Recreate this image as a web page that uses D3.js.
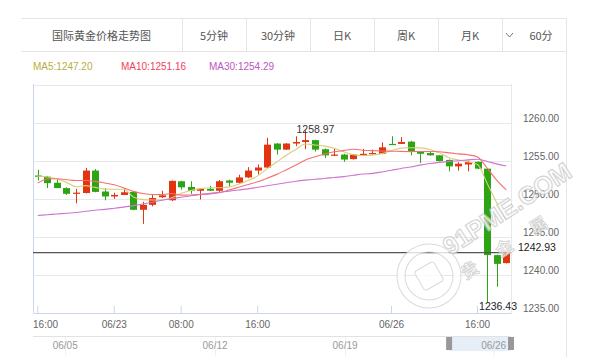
<!DOCTYPE html>
<html>
<head>
<meta charset="utf-8">
<script src="https://cdn.jsdelivr.net/npm/d3@7.9.0/dist/d3.min.js"></script>
<style>
  body { margin: 0; background: #fff; }
  svg { display: block; font-family: "Liberation Sans", Arial, "Noto Sans CJK SC", sans-serif; }
</style>
</head>
<body>
<svg id="chart" width="599" height="363"></svg>
<script>
// hourly sessions shown (day, first hour, last hour)
const sessions = [['06/22', 16, 23], ['06/23', 0, 4], ['06/23', 6, 23], ['06/24', 0, 5], ['06/26', 7, 19]];
const categories = [];
sessions.forEach(([d, a, b]) => {
  for (let h = a; h <= b; h++) categories.push(`${d} ${String(h).padStart(2, '0')}:00`);
});

const open = [1253.05, 1252.9, 1252.1, 1251.4, 1250.7, 1250.75, 1253.7, 1250.95, 1250.3, 1250.5,
  1250.9, 1248.55, 1249.2, 1250.2, 1249.8, 1252.3, 1251.55, 1251.05, 1251.3, 1251.05,
  1252.4, 1252.1, 1252.8, 1253.7, 1254.1, 1257.25, 1256.45, 1257.25, 1257.45, 1257.7,
  1256.5, 1255.65, 1255.8, 1255.2, 1255.8, 1255.85, 1255.9, 1257.2, 1257.2, 1257.5,
  1256.2, 1256.0, 1255.7, 1255.1, 1254.25, 1254.5, 1254.85, 1253.95, 1242.6, 1241.55];
const close = [1253.0, 1252.05, 1251.4, 1250.65, 1250.8, 1253.7, 1250.9, 1250.3, 1250.5, 1250.85,
  1248.55, 1249.2, 1250.1, 1250.45, 1252.35, 1251.5, 1251.05, 1251.3, 1251.05, 1252.3,
  1252.1, 1252.8, 1253.7, 1254.1, 1257.1, 1256.45, 1257.25, 1257.45, 1257.7, 1256.45,
  1255.7, 1255.8, 1255.15, 1255.8, 1255.9, 1256.0, 1256.75, 1257.15, 1257.45, 1256.15,
  1255.9, 1255.7, 1254.95, 1254.25, 1254.6, 1254.8, 1253.95, 1242.6, 1241.45, 1242.93];
const high = [1253.8, 1253.0, 1252.6, 1251.5, 1251.3, 1254.05, 1253.9, 1251.4, 1250.8, 1251.4,
  1250.95, 1249.6, 1250.6, 1251.05, 1252.4, 1252.35, 1252.3, 1251.4, 1251.7, 1252.45,
  1252.5, 1253.15, 1254.15, 1254.5, 1258.0, 1257.3, 1257.3, 1258.2, 1258.97, 1257.75,
  1256.6, 1256.65, 1255.9, 1255.85, 1256.55, 1256.45, 1257.4, 1258.2, 1258.1, 1257.6,
  1256.25, 1256.2, 1255.75, 1255.15, 1254.8, 1255.0, 1254.9, 1254.0, 1242.65, 1243.1];
const low = [1252.4, 1251.4, 1251.4, 1250.5, 1249.4, 1250.7, 1250.85, 1249.8, 1250.0, 1250.5,
  1248.5, 1246.7, 1249.0, 1250.1, 1249.7, 1251.2, 1250.65, 1249.9, 1251.0, 1250.9,
  1251.6, 1252.0, 1252.7, 1253.2, 1254.0, 1255.8, 1256.4, 1256.9, 1256.5, 1256.2,
  1255.35, 1255.6, 1254.85, 1255.15, 1255.75, 1255.8, 1255.85, 1257.1, 1257.2, 1255.7,
  1254.7, 1255.65, 1254.9, 1253.6, 1253.7, 1253.6, 1253.9, 1236.43, 1238.45, 1241.5];

const ma5 = [1252.95, 1252.85, 1252.6, 1252.15, 1251.58, 1251.72, 1251.49, 1251.27, 1251.24, 1251.25,
  1250.22, 1249.88, 1249.84, 1249.83, 1250.13, 1250.72, 1251.09, 1251.33, 1251.45, 1251.44,
  1251.56, 1251.91, 1252.39, 1253.0, 1253.96, 1254.83, 1255.72, 1256.47, 1257.19, 1257.06,
  1256.91, 1256.62, 1256.16, 1255.78, 1255.67, 1255.73, 1255.92, 1256.32, 1256.65, 1256.7,
  1256.68, 1256.47, 1256.03, 1255.39, 1255.08, 1254.86, 1254.51, 1252.04, 1249.48, 1247.2];
const ma10 = [1252.07, 1252.6, 1252.63, 1252.5, 1252.4, 1252.4, 1252.28, 1252.07, 1251.84, 1251.42,
  1250.97, 1250.69, 1250.56, 1250.54, 1250.69, 1250.47, 1250.49, 1250.59, 1250.64, 1250.79,
  1251.14, 1251.5, 1251.86, 1252.23, 1252.7, 1253.2, 1253.82, 1254.43, 1255.1, 1255.51,
  1255.87, 1256.17, 1256.32, 1256.49, 1256.37, 1256.32, 1256.27, 1256.24, 1256.22, 1256.19,
  1256.21, 1256.2, 1256.18, 1256.02, 1255.89, 1255.77, 1255.49, 1254.04, 1252.44, 1251.16];
const ma30 = [1247.8, 1247.9, 1248.0, 1248.1, 1248.2, 1248.35, 1248.5, 1248.6, 1248.75, 1248.9,
  1249.1, 1249.3, 1249.55, 1249.8, 1250.0, 1250.2, 1250.4, 1250.55, 1250.7, 1250.85,
  1251.0, 1251.15, 1251.3, 1251.5, 1251.7, 1251.9, 1252.1, 1252.3, 1252.45, 1252.57,
  1252.66, 1252.79, 1252.91, 1253.08, 1253.25, 1253.33, 1253.52, 1253.75, 1253.98, 1254.16,
  1254.41, 1254.62, 1254.78, 1254.91, 1254.99, 1255.1, 1255.19, 1254.9, 1254.58, 1254.29];

const yTicks = [1235, 1240, 1245, 1250, 1255, 1260];
const xTickLabels = [['06/22 16:00', '16:00'], ['06/23 00:00', '06/23'], ['06/23 08:00', '08:00'],
  ['06/23 16:00', '16:00'], ['06/26 07:00', '06/26'], ['06/26 16:00', '16:00']];
const tabs = ['国际黄金价格走势图', '5分钟', '30分钟', '日K', '周K', '月K', '60分'];
const navTicks = [['06/05', 26], ['06/12', 147], ['06/19', 252], ['06/26', 372]];
const navLength = 386;

const upColor = '#e3330f', downColor = '#2ca414';
const maStyles = [
  { name: 'MA5', values: ma5, line: '#d6cf78', text: '#b8ae3e' },
  { name: 'MA10', values: ma10, line: '#f57070', text: '#f2405a' },
  { name: 'MA30', values: ma30, line: '#cf74cf', text: '#c155c1' }
];

const svg = d3.select('#chart');
const L = 33, R = 511, T = 84, B = 313;

// ---- header tabs
const head = svg.append('g');
const tabEdges = [21, 182, 246, 310, 374, 438, 502, 566];
const headTop = 18, headBot = 51;
head.append('line').attr('x1', 21).attr('x2', 566).attr('y1', headTop + 0.5).attr('y2', headTop + 0.5).attr('stroke', '#e4e4e4');
head.append('line').attr('x1', 21).attr('x2', 566).attr('y1', headBot + 0.5).attr('y2', headBot + 0.5).attr('stroke', '#e4e4e4');
tabEdges.slice(1, -1).forEach(x => {
  head.append('line').attr('x1', x + 0.5).attr('x2', x + 0.5).attr('y1', headTop).attr('y2', headBot).attr('stroke', '#e4e4e4');
});
tabs.forEach((t, i) => {
  let cx = (tabEdges[i] + tabEdges[i + 1]) / 2;
  if (i === tabs.length - 1) cx += 7;
  head.append('text').attr('x', cx).attr('y', 39.5).attr('text-anchor', 'middle')
    .attr('font-size', 11).attr('fill', '#555')
    .style('font-family', '"Noto Sans CJK SC", sans-serif').text(t);
});
// chevron on the last tab
head.append('path').attr('d', 'M506,33 L509.5,37 L513,33').attr('fill', 'none').attr('stroke', '#777').attr('stroke-width', 1);

// right frame line
svg.append('line').attr('x1', 566.5).attr('x2', 566.5).attr('y1', headTop).attr('y2', 357).attr('stroke', '#e6e6e6');

// ---- legend
const lx = [33, 121, 209];
maStyles.forEach((m, i) => {
  svg.append('text').attr('x', lx[i]).attr('y', 69.5).attr('font-size', 10).attr('fill', m.text)
    .text(`${m.name}:${d3.format('.2f')(m.values[m.values.length - 1])}`);
});

// ---- scales
const x = d3.scaleBand().domain(categories).range([L, R]).paddingInner(0.3).paddingOuter(0.15);
const cx = c => x(c) + x.bandwidth() / 2;
const y = d3.scaleLinear().domain([1235, 1265]).range([B, T + 0.5]);

// grid
const grid = svg.append('g');
[...yTicks.slice(1), 1265].forEach(v => {
  grid.append('line').attr('x1', L).attr('x2', R).attr('y1', Math.round(y(v)) + 0.5).attr('y2', Math.round(y(v)) + 0.5)
    .attr('stroke', '#e8e8e8');
});
grid.append('line').attr('x1', R + 0.5).attr('x2', R + 0.5).attr('y1', T).attr('y2', B).attr('stroke', '#e8e8e8');

// y axis labels
const yAxis = svg.append('g').attr('transform', `translate(${R},0)`)
  .call(d3.axisRight(y).tickValues(yTicks).tickFormat(d3.format('.2f')).tickSize(0).tickPadding(12));
yAxis.select('.domain').remove();
yAxis.selectAll('text').attr('font-size', 10).attr('fill', '#666').attr('dy', '-0.15em')
  .style('font-family', '"Liberation Sans", Arial, sans-serif');

// x axis
const tickMap = new Map(xTickLabels);
const xAxis = svg.append('g').attr('transform', `translate(0,${B})`)
  .call(d3.axisBottom(x).tickValues(xTickLabels.map(d => d[0])).tickFormat(d => tickMap.get(d))
    .tickSizeInner(-7).tickSizeOuter(0));
xAxis.select('.domain').attr('stroke', '#ccd6eb');
xAxis.selectAll('.tick line').attr('stroke', '#ccd6eb');
xAxis.selectAll('text').attr('y', 8).attr('dy', '0.71em').attr('font-size', 10).attr('fill', '#666')
  .style('font-family', '"Liberation Sans", Arial, sans-serif');
xAxis.select('.tick text').attr('text-anchor', 'start').attr('x', L - cx(categories[0]));
svg.append('line').attr('x1', L + 0.5).attr('x2', L + 0.5).attr('y1', T).attr('y2', B).attr('stroke', '#ccd6eb');

// clip
svg.append('clipPath').attr('id', 'plot').append('rect').attr('x', L).attr('y', T).attr('width', R - L).attr('height', B - T);
const plot = svg.append('g').attr('clip-path', 'url(#plot)');

// ---- candles
categories.forEach((c, i) => {
  const col = close[i] >= open[i] ? upColor : downColor;
  const xc = Math.round(cx(c)) + 0.5;
  plot.append('line').attr('x1', xc).attr('x2', xc).attr('y1', y(high[i])).attr('y2', y(low[i]))
    .attr('stroke', col).attr('stroke-width', 1);
  const top = y(Math.max(open[i], close[i]));
  const h = Math.max(1.2, Math.abs(y(open[i]) - y(close[i])));
  plot.append('rect').attr('x', xc - 3.5).attr('y', top).attr('width', 7).attr('height', h).attr('fill', col);
});

// ---- moving averages
maStyles.forEach(m => {
  const line = d3.line().x((d, i) => cx(categories[i])).y(d => y(d)).curve(d3.curveMonotoneX);
  plot.append('path').attr('d', line(m.values)).attr('fill', 'none').attr('stroke', m.line).attr('stroke-width', 1.1);
});

// ---- last price line
const last = close[close.length - 1];
svg.append('line').attr('x1', L).attr('x2', R).attr('y1', y(last)).attr('y2', y(last))
  .attr('stroke', '#555').attr('stroke-width', 1.2);
svg.append('text').attr('x', 518).attr('y', y(last) - 2).attr('font-size', 10.5).attr('fill', '#222')
  .text(d3.format('.2f')(last));

// ---- high / low marks
const hi = d3.maxIndex(high), lo = d3.minIndex(low);
svg.append('text').attr('x', cx(categories[hi]) - 9).attr('y', y(high[hi]) + 3).attr('font-size', 10.5).attr('fill', '#333')
  .text(d3.format('.2f')(high[hi]));
svg.append('text').attr('x', cx(categories[lo]) - 8).attr('y', y(low[lo]) + 8).attr('font-size', 10.5).attr('fill', '#222')
  .text(d3.format('.2f')(low[lo]));

// ---- navigator
const nx = d3.scaleLinear().domain([0, navLength]).range([L, R]);
const nav = svg.append('g');
nav.append('line').attr('x1', L).attr('x2', R).attr('y1', 336.5).attr('y2', 336.5).attr('stroke', '#e2e2e2');
navTicks.forEach(([t, v]) => {
  nav.append('line').attr('x1', nx(v) + 0.5).attr('x2', nx(v) + 0.5).attr('y1', 337).attr('y2', 356).attr('stroke', '#f0f0f0');
});
const selX0 = nx(navLength - categories.length), selX1 = nx(navLength);
nav.append('rect').attr('x', selX0).attr('y', 337).attr('width', selX1 - selX0).attr('height', 14)
  .attr('fill', '#dde8f6').attr('fill-opacity', 0.75);
navTicks.forEach(([t, v]) => {
  nav.append('text').attr('x', nx(v)).attr('y', 349).attr('text-anchor', 'middle').attr('font-size', 10)
    .attr('fill', '#999').text(t);
});
[selX0 - 3, selX1 - 3].forEach(hx => {
  nav.append('rect').attr('x', hx).attr('y', 337).attr('width', 6).attr('height', 13).attr('fill', '#999');
});

// ---- watermark
const wm = svg.append('g').attr('opacity', 0.8);
wm.append('circle').attr('cx', 429).attr('cy', 276).attr('r', 28).attr('fill', 'none').attr('stroke', '#d2d2d2').attr('stroke-width', 9);
wm.append('circle').attr('cx', 429).attr('cy', 276).attr('r', 28).attr('fill', 'none').attr('stroke', '#fff').attr('stroke-width', 7);
wm.append('rect').attr('x', 418).attr('y', 265).attr('width', 22).attr('height', 22).attr('rx', 3)
  .attr('transform', 'rotate(-30 429 276)').attr('fill', '#fff').attr('stroke', '#d2d2d2');
wm.append('text').attr('x', 450).attr('y', 256).attr('transform', 'rotate(-33 450 256)')
  .attr('font-size', 25).attr('font-weight', 'bold').attr('fill', '#fff').attr('stroke', '#cccccc').attr('stroke-width', 1.2)
  .text('91PME.COM');
wm.append('text').attr('x', 466).attr('y', 280).attr('transform', 'rotate(-33 466 280)')
  .attr('font-size', 17).attr('font-weight', 'bold').attr('letter-spacing', 24).attr('fill', '#fff').attr('stroke', '#cccccc')
  .attr('stroke-width', 0.9).style('font-family', '"Noto Sans CJK SC", sans-serif').text('贵金属');
</script>
</body>
</html>
